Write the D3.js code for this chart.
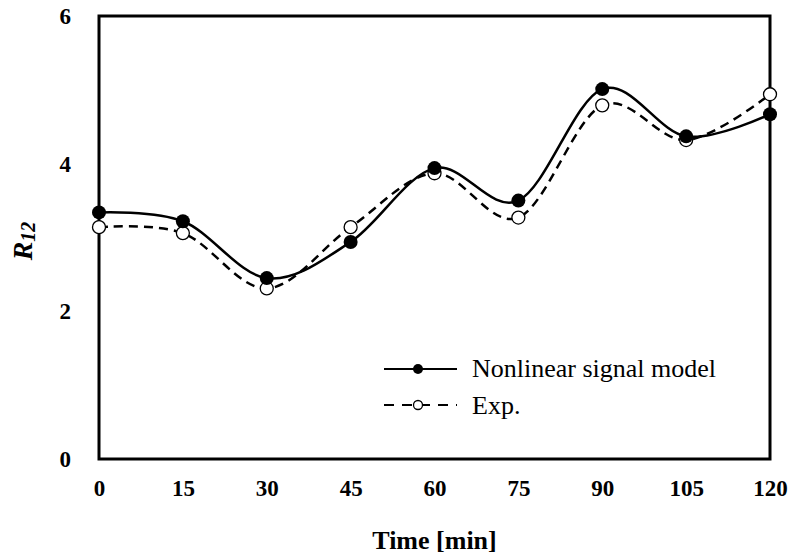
<!DOCTYPE html>
<html>
<head>
<meta charset="utf-8">
<script src="https://cdn.jsdelivr.net/npm/d3@7"></script>
<style>
  body { margin: 0; background: #fff; }
  svg { display: block; font-family: "Liberation Serif", "Times New Roman", serif; }
</style>
</head>
<body>
<svg width="794" height="557"></svg>
<script>
// data
const times = [0, 15, 30, 45, 60, 75, 90, 105, 120];
const modelVals = [3.34, 3.22, 2.45, 2.94, 3.94, 3.50, 5.01, 4.37, 4.67];
const expVals = [3.14, 3.06, 2.31, 3.14, 3.87, 3.27, 4.79, 4.32, 4.94];
const xTicks = [0, 15, 30, 45, 60, 75, 90, 105, 120];
const yTicks = [0, 2, 4, 6];

const svg = d3.select("svg");
const margin = { top: 16, right: 24, bottom: 98, left: 99 };
const width = 794 - margin.left - margin.right,
    height = 557 - margin.top - margin.bottom;

const g = svg.append("g")
  .attr("transform", "translate(" + margin.left + "," + margin.top + ")");

const x = d3.scaleLinear().domain([0, 120]).range([0, width]);
const y = d3.scaleLinear().domain([0, 6]).range([height, 0]);

// tick labels only, no tick marks
const xAxis = g.append("g")
  .attr("transform", "translate(0," + height + ")")
  .call(d3.axisBottom(x).tickValues(xTicks).tickSize(0).tickPadding(21));
xAxis.select(".domain").remove();

const yAxis = g.append("g")
  .call(d3.axisLeft(y).tickValues(yTicks).tickFormat(d3.format("d")).tickSize(0).tickPadding(28));
yAxis.select(".domain").remove();

g.selectAll(".tick text")
  .style("font-family", "Liberation Serif")
  .style("font-weight", "bold")
  .style("font-size", "23px")
  .attr("fill", "#000");

// frame
g.append("rect")
  .attr("width", width)
  .attr("height", height)
  .attr("fill", "none")
  .attr("stroke", "#000")
  .attr("stroke-width", 3);

const line = d3.line()
  .x(d => x(d[0]))
  .y(d => y(d[1]))
  .curve(d3.curveCardinal.tension(0));

const modelData = times.map((t, i) => [t, modelVals[i]]);
const expData = times.map((t, i) => [t, expVals[i]]);

g.append("path")
  .datum(expData)
  .attr("d", line)
  .attr("fill", "none")
  .attr("stroke", "#000")
  .attr("stroke-width", 2.5)
  .attr("stroke-dasharray", "9,6");

g.append("path")
  .datum(modelData)
  .attr("d", line)
  .attr("fill", "none")
  .attr("stroke", "#000")
  .attr("stroke-width", 2.5);

g.selectAll(".exp")
  .data(expData)
  .enter().append("circle")
  .attr("class", "exp")
  .attr("cx", d => x(d[0]))
  .attr("cy", d => y(d[1]))
  .attr("r", 6.5)
  .attr("fill", "#fff")
  .attr("stroke", "#000")
  .attr("stroke-width", 1.3);

g.selectAll(".model")
  .data(modelData)
  .enter().append("circle")
  .attr("class", "model")
  .attr("cx", d => x(d[0]))
  .attr("cy", d => y(d[1]))
  .attr("r", 7)
  .attr("fill", "#000");

// legend
const legend = svg.append("g").attr("transform", "translate(384,369)");
legend.append("line").attr("x1", 0).attr("x2", 73).attr("y1", 0).attr("y2", 0)
  .attr("stroke", "#000").attr("stroke-width", 2);
legend.append("circle").attr("cx", 34).attr("cy", 0).attr("r", 5).attr("fill", "#000");
legend.append("text").attr("x", 88).attr("y", 8)
  .style("font-size", "26px").text("Nonlinear signal model");

legend.append("line").attr("x1", 0).attr("x2", 73).attr("y1", 36).attr("y2", 36)
  .attr("stroke", "#000").attr("stroke-width", 2).attr("stroke-dasharray", "10,8");
legend.append("circle").attr("cx", 34).attr("cy", 36).attr("r", 4.5)
  .attr("fill", "#fff").attr("stroke", "#000").attr("stroke-width", 1.3);
legend.append("text").attr("x", 88).attr("y", 45)
  .style("font-size", "26px").text("Exp.");

// axis titles
svg.append("text")
  .attr("x", margin.left + width / 2)
  .attr("y", 549)
  .attr("text-anchor", "middle")
  .style("font-weight", "bold")
  .style("font-size", "26px")
  .text("Time [min]");

const yt = svg.append("text")
  .attr("transform", "translate(32,241) rotate(-90)")
  .attr("text-anchor", "middle")
  .style("font-weight", "bold")
  .style("font-style", "italic")
  .style("font-size", "28px");
yt.append("tspan").text("R");
yt.append("tspan").attr("dy", 3).style("font-size", "20px").text("12");
</script>
</body>
</html>
